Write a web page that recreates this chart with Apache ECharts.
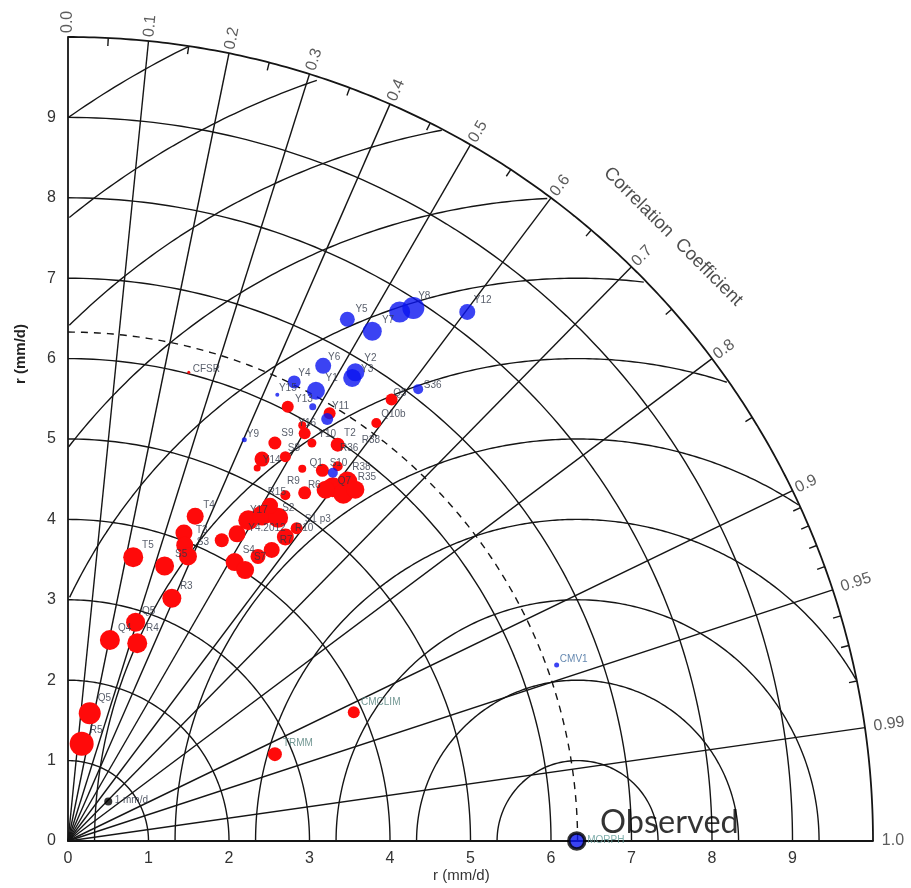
<!DOCTYPE html>
<html><head><meta charset="utf-8">
<script src="https://cdn.jsdelivr.net/npm/echarts@6/dist/echarts.min.js"></script>
<style>html,body{margin:0;padding:0;background:#fff}#c{width:911px;height:888px}</style>
</head><body><div id="c"></div>
<script>
// ---------------- DATA ----------------
const obsStd = 6.33;                       // observed (MORPH) standard deviation
const axisTicks = [0,1,2,3,4,5,6,7,8,9];
const stdCircles = [1,2,3,4,5,6,7,8,9];
const rmsCircles = [1,2,3,4,5,6,7,8,9,10,11];
const corrValues = [0,0.1,0.2,0.3,0.4,0.5,0.6,0.7,0.8,0.9,0.95,0.99,1.0];
const corrLabels = ['0.0','0.1','0.2','0.3','0.4','0.5','0.6','0.7','0.8','0.9','0.95','0.99','1.0'];
const corrLines = [0.1,0.2,0.3,0.4,0.5,0.6,0.7,0.8,0.9,0.95,0.99];
const corrMinor = [0.05,0.15,0.25,0.35,0.45,0.55,0.65,0.75,0.85,0.91,0.92,0.93,0.94,0.96,0.97,0.98];

// red experiments (x = r·cos, y = r·sin, mm/d)
const redX = [1.58,1.44,1.45,1.49,0.81,1.20,1.29,0.84,0.52,0.86,0.27,0.17,2.57,3.55,1.91,2.10,2.07,2.20,2.36,2.53,
              2.24,2.41,2.61,2.51,2.70,2.84,2.94,2.70,2.57,3.03,3.35,2.41,2.70,2.35,2.91,3.16,3.35,3.29,3.47,3.42,
              3.57,3.20,2.73,3.25,4.02,3.83,2.94,2.91,1.50];
const redY = [4.04,3.83,3.68,3.54,3.53,3.42,3.02,2.72,2.50,2.46,1.59,1.21,1.08,1.60,3.74,3.82,3.47,3.37,3.54,3.62,
              3.99,4.05,4.02,4.17,3.78,3.89,4.33,4.30,4.95,4.95,4.93,4.75,4.78,4.64,4.63,4.61,4.66,4.40,4.47,4.32,
              4.37,4.37,5.40,5.32,5.49,5.20,5.07,5.17,5.83];
// blue experiments
const blueX = [4.96,4.12,4.29,3.47,3.78,3.17,3.57,3.53,2.81,3.08,2.60,3.04,3.22,4.35,2.19,3.29,6.07];
const blueY = [6.58,6.58,6.63,6.49,6.34,5.91,5.83,5.76,5.71,5.60,5.55,5.40,5.25,5.62,4.99,4.58,2.19];
// observed & reference
const obsX = [6.32], obsY = [0];
const refX = [0.50], refY = [0.49];

// point labels (text and the data location of the label's left edge)
const labelText = ['Y12','Y8','Y5','Y7','Y6','Y2','Y3','Y4','Y1','Y15','Y13','Y11','Y16','Y10','Q5','S36','Q10b',
  'S9','T2','R38','R36','S8','Y9','Y14','Q1','S10','R38','R35','R9','R6','Q7','R15','S2','Y17','S1 p3','Y4.2012',
  'R10','R7','S4','S7','T4','T3','S3','S5','T5','R3','Q5','Q4','R4','Q5','R5','TRMM','CMCLIM','1 mm/d','CMV1','MORPH','CFSR'];
const labelX = [5.04,4.35,3.57,3.90,3.23,3.68,3.64,2.86,3.20,2.62,2.82,3.28,2.86,3.11,4.04,4.42,3.89,
  2.65,3.43,3.65,3.38,2.73,2.22,2.42,3.00,3.25,3.53,3.60,2.72,2.98,3.35,2.48,2.66,2.26,2.94,2.24,
  2.82,2.63,2.17,2.31,1.68,1.59,1.60,1.33,0.92,1.39,0.92,0.62,0.97,0.37,0.27,2.67,3.64,0.58,6.11,6.45,1.55];
const labelY = [6.72,6.77,6.62,6.48,6.02,6.00,5.87,5.82,5.75,5.63,5.49,5.41,5.20,5.06,5.57,5.67,5.31,
  5.07,5.07,4.98,4.89,4.89,5.06,4.74,4.70,4.70,4.65,4.53,4.47,4.42,4.47,4.34,4.14,4.12,4.00,3.89,
  3.89,3.74,3.62,3.53,4.18,3.87,3.71,3.57,3.68,3.17,2.86,2.65,2.65,1.77,1.38,1.21,1.72,0.51,2.26,0.01,5.87];

// ---------------- STYLE ----------------
const redSizes = [17,17,17,18,20,19,19,19,20,20,22,24,14,12,14,17,18,18,15,16,
                  20,20,20,16,17,12,13,10,13,9,14,15,11,7,8,13,10,20,20,20,
                  18,18,12,12,12,10,12,8,3];
const blueSizes = [16,21,22,15,19,16,18,18,13,18,4,7,12,10,5,10,5];
const tealLabels = {'TRMM':'#4f7d78','CMCLIM':'#4f7d78','MORPH':'#5f9a96','CMV1':'#3d6a9c'};
const LINE = '#151515';
const FONT = '"Liberation Sans", Arial, sans-serif';

// ---------------- BUILD ----------------
const RMAX = 10;
const series = [];
function lineSeries(pts, opts) {
  series.push(Object.assign({
    type:'line', data:pts, showSymbol:false, symbol:'none', silent:true, animation:false, clip:false,
    lineStyle:{color:LINE, width:1.4}, z:1, connectNulls:false
  }, opts||{}));
}
function polarArc(r, n) {
  const p = [];
  for (let i=0;i<=n;i++){ const t = Math.PI/2*i/n; p.push([r*Math.cos(t), r*Math.sin(t)]); }
  return p;
}
stdCircles.forEach(r => lineSeries(polarArc(r, 120)));
lineSeries(polarArc(RMAX, 240), {lineStyle:{color:LINE, width:1.8}});
lineSeries(polarArc(obsStd, 160), {lineStyle:{color:LINE, width:1.4, type:[7,6]}});
rmsCircles.forEach(R => {
  const p = [];
  for (let i=0;i<=400;i++){
    const t = Math.PI*i/400;
    const x = obsStd + R*Math.cos(t), y = R*Math.sin(t);
    if (x >= 0 && x*x+y*y <= RMAX*RMAX + 1e-9) p.push([x,y]); else p.push('-');
  }
  lineSeries(p);
});
corrLines.forEach(c => {
  const s = Math.sqrt(1-c*c);
  lineSeries([[0,0],[RMAX*c, RMAX*s]]);
});
corrMinor.forEach(c => {
  const s = Math.sqrt(1-c*c);
  lineSeries([[RMAX*0.99*c, RMAX*0.99*s],[RMAX*c, RMAX*s]]);
});

// scatter points
series.push({type:'scatter', z:5, silent:true, animation:false, clip:false,
  data: redX.map((x,i)=>({value:[x,redY[i]], symbolSize:redSizes[i]})),
  itemStyle:{color:'#ff0a0a', opacity:1}});
series.push({type:'scatter', z:6, silent:true, animation:false, clip:false,
  data: blueX.map((x,i)=>({value:[x,blueY[i]], symbolSize:blueSizes[i]})),
  itemStyle:{color:'#0a14f0'}});
series.push({type:'scatter', z:7, silent:true, animation:false, clip:false, symbolSize:16,
  data: obsX.map((x,i)=>[x,obsY[i]]),
  itemStyle:{color:'#0a14f0', borderColor:'#000', borderWidth:3.5}});
series.push({type:'scatter', z:7, silent:true, animation:false, clip:false, symbolSize:8,
  data: refX.map((x,i)=>[x,refY[i]]), itemStyle:{color:'#000'}});

// point labels
series.push({type:'scatter', z:8, silent:true, animation:false, clip:false, symbolSize:0,
  data: labelText.map((t,i)=>({value:[labelX[i],labelY[i]], name:t,
     label:{color: tealLabels[t] || '#2e3646'}})),
  label:{show:true, position:[0,0], align:'left', verticalAlign:'middle',
     formatter:p=>p.name, fontSize:10, fontFamily:FONT}});

// correlation labels around the outer arc
series.push({type:'scatter', z:8, silent:true, animation:false, clip:false, symbolSize:0,
  data: corrValues.map((c,i)=>{
    const s = Math.sqrt(Math.max(0,1-c*c));
    const rr = RMAX + 0.05 + 0.06*(c>0.9?1:0);
    const ang = Math.acos(c)*180/Math.PI;
    return {value:[rr*c, rr*s], name:corrLabels[i], label:{rotate:ang}};
  }),
  label:{show:true, position:[0,0], align:'left', verticalAlign:'middle',
     formatter:p=>p.name, fontSize:16, color:'#333', fontFamily:FONT}});

// title along the arc
series.push({type:'scatter', z:8, silent:true, animation:false, clip:false, symbolSize:0,
  data:[{value:[10.63*Math.cos(Math.PI/4), 10.63*Math.sin(Math.PI/4)], name:'Correlation  Coefficient'}],
  label:{show:true, position:[0,0], align:'center', verticalAlign:'middle', rotate:-45,
     formatter:p=>p.name, fontSize:18.5, color:'#222', fontFamily:FONT}});

// "Observed" annotation
series.push({type:'scatter', z:9, silent:true, animation:false, clip:false, symbolSize:0,
  data:[{value:[6.61,0.225], name:'Observed'}],
  label:{show:true, position:[0,0], align:'left', verticalAlign:'middle',
     formatter:p=>p.name, fontSize:32.5, color:'#000', fontFamily:'Lato, "Open Sans", sans-serif'}});

const axisCommon = {
  type:'value', min:0, max:RMAX, interval:1,
  axisLine:{show:true, onZero:false, lineStyle:{color:LINE, width:1.8}},
  axisTick:{show:false}, splitLine:{show:false},
  axisLabel:{color:'#333', fontSize:16, fontFamily:FONT,
    formatter: v => axisTicks.indexOf(v) >= 0 ? String(v) : ''}
};

const chart = echarts.init(document.getElementById('c'));
chart.setOption({
  animation:false,
  backgroundColor:'#fff',
  grid:{left:68, top:37, width:805, height:804},
  xAxis: Object.assign({}, axisCommon, {axisLabel:Object.assign({}, axisCommon.axisLabel, {margin:10})}),
  yAxis: Object.assign({}, axisCommon, {axisLabel:Object.assign({}, axisCommon.axisLabel, {margin:12})}),
  graphic:[
    {type:'text', left:13, top:324, rotation:Math.PI/2, silent:true,
      style:{text:'r (mm/d)', fill:'#222', font:'bold 15px "Liberation Sans", Arial'}},
    {type:'text', left:433, top:868, silent:true,
      style:{text:'r (mm/d)', fill:'#333', font:'15px "Liberation Sans", Arial'}}
  ],
  series: series
});
</script></body></html>
